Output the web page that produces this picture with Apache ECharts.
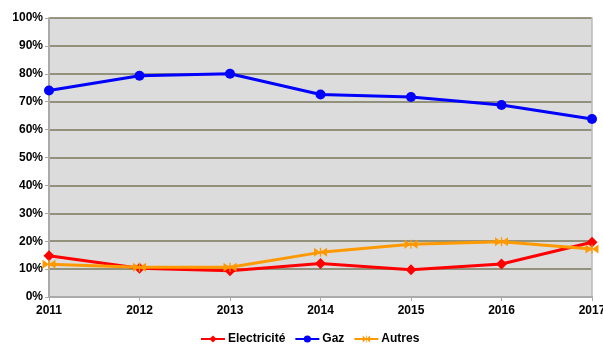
<!DOCTYPE html>
<html><head><meta charset="utf-8">
<script src="https://cdn.jsdelivr.net/npm/echarts@6/dist/echarts.min.js"></script>
<style>html,body{margin:0;padding:0;background:#fff}#c{width:603px;height:345px}</style>
</head><body><div id="c"></div>
<script>
const years = ['2011','2012','2013','2014','2015','2016','2017'];
const electricite = [14.8, 10.3, 9.4, 12.0, 9.8, 11.8, 19.6];
const gaz = [74.0, 79.3, 80.0, 72.6, 71.7, 68.8, 63.8];
const autres = [11.7, 10.7, 10.7, 16.0, 18.9, 19.8, 17.2];
const font = 'Liberation Sans, Arial, sans-serif';
const bowtie = 'path://M0,0L10,5L0,10Z M20,0L10,5L20,10Z M9,0L11,0L11,10L9,10Z';
const chart = echarts.init(document.getElementById('c'));
chart.setOption({
  animation: false,
  grid: {left: 49, right: 11, top: 18, bottom: 48, show: true, backgroundColor: '#dcdcdc', borderWidth: 0,
         outerBoundsMode: 'none', containLabel: false},
  legend: {
    top: 328, left: 195, itemWidth: 24, itemHeight: 9, itemGap: 9,
    textStyle: {fontFamily: font, fontWeight: 'bold', fontSize: 12, color: '#000', padding: [0, 0, 0, -2]},
    data: ['Electricité', 'Gaz', 'Autres']
  },
  xAxis: {
    type: 'category', data: years, boundaryGap: false,
    axisLine: {lineStyle: {color: '#aaaaaa', width: 2}},
    axisTick: {show: true, length: 4, lineStyle: {color: '#aaaaaa'}},
    axisLabel: {fontFamily: font, fontWeight: 'bold', fontSize: 12, color: '#000', margin: 8}
  },
  yAxis: [{
    type: 'value', min: 0, max: 100, interval: 10,
    axisLine: {show: true, lineStyle: {color: '#aaaaaa', width: 2}},
    axisTick: {show: true, length: 4, lineStyle: {color: '#aaaaaa'}},
    splitLine: {lineStyle: {color: '#7a7a5c', width: 1.5}},
    axisLabel: {formatter: '{value}%', fontFamily: font, fontWeight: 'bold', fontSize: 12, color: '#000', margin: 6}
  }, {
    type: 'value', min: 0, max: 100, interval: 10, position: 'right',
    axisLine: {show: true, lineStyle: {color: '#bbbbbb', width: 1.5}},
    axisTick: {show: false}, axisLabel: {show: false}, splitLine: {show: false}
  }],
  series: [
    {name: 'Electricité', type: 'line', data: electricite, symbol: 'diamond', symbolSize: 11,
     itemStyle: {color: '#ff0000'}, lineStyle: {width: 3, color: '#ff0000'}, z: 3},
    {name: 'Gaz', type: 'line', data: gaz, symbol: 'circle', symbolSize: 10,
     itemStyle: {color: '#0000ff'}, lineStyle: {width: 3, color: '#0000ff'}, z: 3},
    {name: 'Autres', type: 'line', data: autres, symbol: bowtie, symbolSize: [13, 9],
     itemStyle: {color: '#ff9900'}, lineStyle: {width: 3, color: '#ff9900'}, z: 4}
  ]
});
</script></body></html>
